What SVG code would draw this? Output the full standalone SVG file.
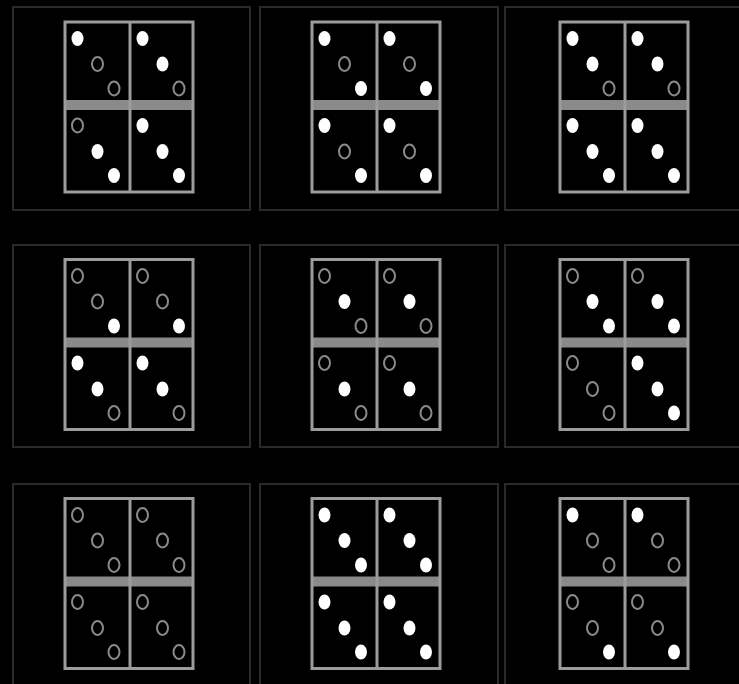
<svg xmlns="http://www.w3.org/2000/svg" xmlns:xlink="http://www.w3.org/1999/xlink" width="739" height="684" viewBox="0 0 739 684">
<style>
.panel{fill:none;stroke:#2a2a2a;stroke-width:2}
.card{fill:none;stroke:#9c9c9c;stroke-width:3}
.band{fill:#8a8a8a}
</style>
<defs>
<ellipse id="f" rx="6" ry="7.5" fill="#ffffff"/>
<ellipse id="h" rx="5.5" ry="7" fill="none" stroke="#8a8a8a" stroke-width="2"/>
<g id="grid">
<rect class="band" x="0" y="78" width="128" height="10"/>
<rect class="card" x="0" y="0" width="128" height="170"/>
<line class="card" x1="65" y1="0" x2="65" y2="170"/>
</g>
</defs>
<rect width="739" height="684" fill="#000"/>

<g id="panel-1-1" transform="translate(65,22)">
<rect class="panel" x="-52" y="-15" width="237" height="203"/>
<use xlink:href="#grid"/>
<use xlink:href="#f" x="12.5" y="16.5"/><use xlink:href="#h" x="32.5" y="42"/><use xlink:href="#h" x="49" y="66.5"/>
<use xlink:href="#f" x="77.5" y="16.5"/><use xlink:href="#f" x="97.5" y="42"/><use xlink:href="#h" x="114" y="66.5"/>
<use xlink:href="#h" x="12.5" y="103.5"/><use xlink:href="#f" x="32.5" y="129.5"/><use xlink:href="#f" x="49" y="153.5"/>
<use xlink:href="#f" x="77.5" y="103.5"/><use xlink:href="#f" x="97.5" y="129.5"/><use xlink:href="#f" x="114" y="153.5"/>
</g>

<g id="panel-1-2" transform="translate(312,22)">
<rect class="panel" x="-52" y="-15" width="238" height="203"/>
<use xlink:href="#grid"/>
<use xlink:href="#f" x="12.5" y="16.5"/><use xlink:href="#h" x="32.5" y="42"/><use xlink:href="#f" x="49" y="66.5"/>
<use xlink:href="#f" x="77.5" y="16.5"/><use xlink:href="#h" x="97.5" y="42"/><use xlink:href="#f" x="114" y="66.5"/>
<use xlink:href="#f" x="12.5" y="103.5"/><use xlink:href="#h" x="32.5" y="129.5"/><use xlink:href="#f" x="49" y="153.5"/>
<use xlink:href="#f" x="77.5" y="103.5"/><use xlink:href="#h" x="97.5" y="129.5"/><use xlink:href="#f" x="114" y="153.5"/>
</g>

<g id="panel-1-3" transform="translate(560,22)">
<rect class="panel" x="-55" y="-15" width="240" height="203"/>
<use xlink:href="#grid"/>
<use xlink:href="#f" x="12.5" y="16.5"/><use xlink:href="#f" x="32.5" y="42"/><use xlink:href="#h" x="49" y="66.5"/>
<use xlink:href="#f" x="77.5" y="16.5"/><use xlink:href="#f" x="97.5" y="42"/><use xlink:href="#h" x="114" y="66.5"/>
<use xlink:href="#f" x="12.5" y="103.5"/><use xlink:href="#f" x="32.5" y="129.5"/><use xlink:href="#f" x="49" y="153.5"/>
<use xlink:href="#f" x="77.5" y="103.5"/><use xlink:href="#f" x="97.5" y="129.5"/><use xlink:href="#f" x="114" y="153.5"/>
</g>

<g id="panel-2-1" transform="translate(65,259.5)">
<rect class="panel" x="-52" y="-14.5" width="237" height="202"/>
<use xlink:href="#grid"/>
<use xlink:href="#h" x="12.5" y="16.5"/><use xlink:href="#h" x="32.5" y="42"/><use xlink:href="#f" x="49" y="66.5"/>
<use xlink:href="#h" x="77.5" y="16.5"/><use xlink:href="#h" x="97.5" y="42"/><use xlink:href="#f" x="114" y="66.5"/>
<use xlink:href="#f" x="12.5" y="103.5"/><use xlink:href="#f" x="32.5" y="129.5"/><use xlink:href="#h" x="49" y="153.5"/>
<use xlink:href="#f" x="77.5" y="103.5"/><use xlink:href="#f" x="97.5" y="129.5"/><use xlink:href="#h" x="114" y="153.5"/>
</g>

<g id="panel-2-2" transform="translate(312,259.5)">
<rect class="panel" x="-52" y="-14.5" width="238" height="202"/>
<use xlink:href="#grid"/>
<use xlink:href="#h" x="12.5" y="16.5"/><use xlink:href="#f" x="32.5" y="42"/><use xlink:href="#h" x="49" y="66.5"/>
<use xlink:href="#h" x="77.5" y="16.5"/><use xlink:href="#f" x="97.5" y="42"/><use xlink:href="#h" x="114" y="66.5"/>
<use xlink:href="#h" x="12.5" y="103.5"/><use xlink:href="#f" x="32.5" y="129.5"/><use xlink:href="#h" x="49" y="153.5"/>
<use xlink:href="#h" x="77.5" y="103.5"/><use xlink:href="#f" x="97.5" y="129.5"/><use xlink:href="#h" x="114" y="153.5"/>
</g>

<g id="panel-2-3" transform="translate(560,259.5)">
<rect class="panel" x="-55" y="-14.5" width="240" height="202"/>
<use xlink:href="#grid"/>
<use xlink:href="#h" x="12.5" y="16.5"/><use xlink:href="#f" x="32.5" y="42"/><use xlink:href="#f" x="49" y="66.5"/>
<use xlink:href="#h" x="77.5" y="16.5"/><use xlink:href="#f" x="97.5" y="42"/><use xlink:href="#f" x="114" y="66.5"/>
<use xlink:href="#h" x="12.5" y="103.5"/><use xlink:href="#h" x="32.5" y="129.5"/><use xlink:href="#h" x="49" y="153.5"/>
<use xlink:href="#f" x="77.5" y="103.5"/><use xlink:href="#f" x="97.5" y="129.5"/><use xlink:href="#f" x="114" y="153.5"/>
</g>

<g id="panel-3-1" transform="translate(65,498.5)">
<rect class="panel" x="-52" y="-14.5" width="237" height="210"/>
<use xlink:href="#grid"/>
<use xlink:href="#h" x="12.5" y="16.5"/><use xlink:href="#h" x="32.5" y="42"/><use xlink:href="#h" x="49" y="66.5"/>
<use xlink:href="#h" x="77.5" y="16.5"/><use xlink:href="#h" x="97.5" y="42"/><use xlink:href="#h" x="114" y="66.5"/>
<use xlink:href="#h" x="12.5" y="103.5"/><use xlink:href="#h" x="32.5" y="129.5"/><use xlink:href="#h" x="49" y="153.5"/>
<use xlink:href="#h" x="77.5" y="103.5"/><use xlink:href="#h" x="97.5" y="129.5"/><use xlink:href="#h" x="114" y="153.5"/>
</g>

<g id="panel-3-2" transform="translate(312,498.5)">
<rect class="panel" x="-52" y="-14.5" width="238" height="210"/>
<use xlink:href="#grid"/>
<use xlink:href="#f" x="12.5" y="16.5"/><use xlink:href="#f" x="32.5" y="42"/><use xlink:href="#f" x="49" y="66.5"/>
<use xlink:href="#f" x="77.5" y="16.5"/><use xlink:href="#f" x="97.5" y="42"/><use xlink:href="#f" x="114" y="66.5"/>
<use xlink:href="#f" x="12.5" y="103.5"/><use xlink:href="#f" x="32.5" y="129.5"/><use xlink:href="#f" x="49" y="153.5"/>
<use xlink:href="#f" x="77.5" y="103.5"/><use xlink:href="#f" x="97.5" y="129.5"/><use xlink:href="#f" x="114" y="153.5"/>
</g>

<g id="panel-3-3" transform="translate(560,498.5)">
<rect class="panel" x="-55" y="-14.5" width="240" height="210"/>
<use xlink:href="#grid"/>
<use xlink:href="#f" x="12.5" y="16.5"/><use xlink:href="#h" x="32.5" y="42"/><use xlink:href="#h" x="49" y="66.5"/>
<use xlink:href="#f" x="77.5" y="16.5"/><use xlink:href="#h" x="97.5" y="42"/><use xlink:href="#h" x="114" y="66.5"/>
<use xlink:href="#h" x="12.5" y="103.5"/><use xlink:href="#h" x="32.5" y="129.5"/><use xlink:href="#f" x="49" y="153.5"/>
<use xlink:href="#h" x="77.5" y="103.5"/><use xlink:href="#h" x="97.5" y="129.5"/><use xlink:href="#f" x="114" y="153.5"/>
</g>
</svg>
